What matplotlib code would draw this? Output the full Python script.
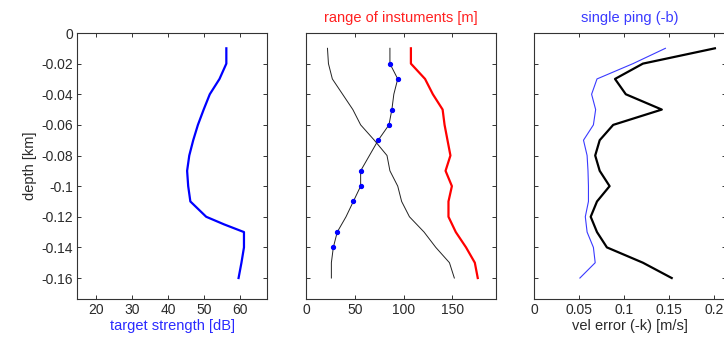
import matplotlib
matplotlib.use("Agg")
import matplotlib.pyplot as plt
import numpy as np

plt.rcParams['font.family'] = ['Liberation Sans', 'DejaVu Sans']
plt.rcParams['font.size'] = 10

# ---- data ----
depth_ts = [-0.01, -0.02, -0.03, -0.04, -0.05, -0.06, -0.07, -0.08, -0.09, -0.10,
            -0.11, -0.12, -0.125, -0.13, -0.14, -0.15, -0.16]
target_strength = [56.1, 56.1, 54.2, 51.5, 49.8, 48.2, 46.9, 45.8, 45.2, 45.5,
                   46.1, 50.5, 55.5, 61.0, 61.0, 60.3, 59.5]

depth = [-0.01, -0.02, -0.03, -0.04, -0.05, -0.06, -0.07, -0.08, -0.09, -0.10,
         -0.11, -0.12, -0.13, -0.14, -0.15, -0.16]
range_red = [107.5, 107.5, 122, 130, 140, 142, 145, 148, 143, 149.5,
             146, 146, 153.5, 164, 173, 176]
range_black1 = [22, 23, 27, 37.5, 48, 56, 70, 83, 86, 94,
                98, 106, 121, 133, 147, 152]
range_black2 = [86, 86, 94, 90, 88, 85, 74, 65, 56, 56,
                48.5, 41, 32, 28, 26, 26]
dot_depth = [-0.02, -0.03, -0.05, -0.06, -0.07, -0.09, -0.10, -0.11, -0.13, -0.14]
dot_range = [86, 94, 88, 85, 74, 56, 56, 48.5, 32, 28]

vel_err_k = [0.201, 0.121, 0.090, 0.102, 0.142, 0.088, 0.073, 0.068, 0.073, 0.084,
             0.070, 0.063, 0.070, 0.081, 0.121, 0.153]
vel_err_b = [0.146, 0.110, 0.070, 0.064, 0.0685, 0.066, 0.055, 0.059, 0.060, 0.0605,
             0.0605, 0.057, 0.059, 0.066, 0.068, 0.051]

yticks = [0, -0.02, -0.04, -0.06, -0.08, -0.1, -0.12, -0.14, -0.16]
ytick_labels = ['0', '-0.02', '-0.04', '-0.06', '-0.08', '-0.1', '-0.12', '-0.14', '-0.16']
xticks1 = [20, 30, 40, 50, 60]
xticks2 = [0, 50, 100, 150]
xticks3 = [0, 0.05, 0.1, 0.15, 0.2]
xtick_labels3 = ['0', '0.05', '0.1', '0.15', '0.2']

W, H = 724, 340
fig = plt.figure(figsize=(W / 100, H / 100), dpi=100)

def px_axes(x0, x1, y0, y1):
    return fig.add_axes([x0 / W, (H - y1) / H, (x1 - x0) / W, (y1 - y0) / H])

spine_c = '#333333'
text_c = '#2a2a2a'

def style(ax):
    for s in ax.spines.values():
        s.set_color(spine_c)
        s.set_linewidth(0.8)
    ax.tick_params(direction='in', length=3, width=0.7, color=spine_c,
                   labelcolor=text_c, top=True, right=True, labelsize=10, pad=3)
    ax.set_ylim(-0.1737, 0)
    ax.set_yticks(yticks)

ax1 = px_axes(77, 267, 33, 299)
ax2 = px_axes(306, 496, 33, 299)
ax3 = px_axes(534, 726, 33, 299)

for ax in (ax1, ax2, ax3):
    style(ax)

# panel 1
ax1.plot(target_strength, depth_ts, color='#0000ff', lw=1.6)
ax1.set_xlim(14.6, 67.4)
ax1.set_xticks(xticks1)
ax1.set_yticklabels(ytick_labels)
ax1.set_xlabel('target strength [dB]', color='#2a2aff', fontsize=10.5, labelpad=1)
ax1.set_ylabel('depth [km]', color=text_c, fontsize=10.5, labelpad=3)

# panel 2
ax2.plot(range_black1, depth, color='#222222', lw=0.7)
ax2.plot(range_black2, depth, color='#222222', lw=0.7)
ax2.plot(dot_range, dot_depth, 'o', color='#0000ff', ms=2.8, mec='#0000ff')
ax2.plot(range_red, depth, color='#ff0000', lw=1.6)
ax2.set_xlim(0, 194.7)
ax2.set_xticks(xticks2)
ax2.set_yticklabels([])
ax2.set_title('range of instuments [m]', color='#ff2020', fontsize=10.5, pad=8)

# panel 3
ax3.plot(vel_err_b, depth, color='#3a3aff', lw=0.8)
ax3.plot(vel_err_k, depth, color='#000000', lw=1.6)
ax3.set_xlim(0, 0.05 * 192 / 45)
ax3.set_xticks(xticks3)
ax3.set_xticklabels(xtick_labels3)
ax3.set_yticklabels([])
ax3.set_xlabel('vel error (-k) [m/s]', color=text_c, fontsize=10.5, labelpad=1)
ax3.set_title('single ping (-b)', color='#3a3aff', fontsize=10.5, pad=8)

fig.savefig('out.png', dpi=100)
